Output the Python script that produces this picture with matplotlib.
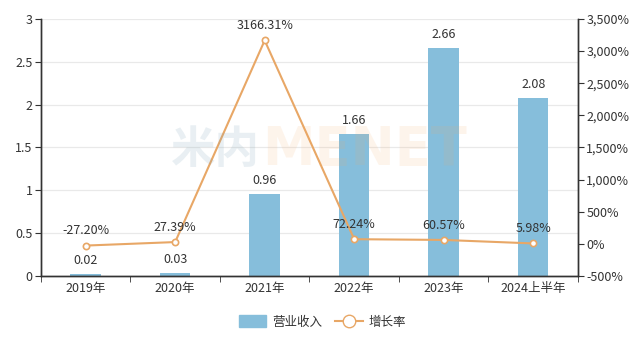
import matplotlib
matplotlib.use("Agg")
from matplotlib import pyplot as plt
from matplotlib.lines import Line2D
from matplotlib.patches import FancyBboxPatch
from matplotlib.ticker import FuncFormatter, MultipleLocator

plt.rcParams["font.family"] = ["Noto Sans CJK SC", "DejaVu Sans"]

categories = ["2019年", "2020年", "2021年", "2022年", "2023年", "2024上半年"]
revenue = [0.02, 0.03, 0.96, 1.66, 2.66, 2.08]
growth = [-27.20, 27.39, 3166.31, 72.24, 60.57, 5.98]

BAR_C = "#86bedb"
LINE_C = "#e8a766"
TXT = "#333333"
AX_C = "#333333"

fig = plt.figure(figsize=(6.39, 3.39), dpi=100, facecolor="white")
ax = fig.add_axes([0.064, 0.186, 0.8405, 0.758])
ax2 = ax.twinx()

x = list(range(len(categories)))
ax.bar(x, revenue, width=0.34, color=BAR_C, zorder=2)
for xi, v in zip(x, revenue):
    ax.annotate(f"{v:.2f}", (xi, v), xytext=(0, 5), textcoords="offset points",
                ha="center", va="bottom", fontsize=9, color=TXT)

ax2.plot(x, growth, color=LINE_C, lw=1.5, marker="o", ms=4.5,
         mfc="white", mec=LINE_C, mew=1.2, zorder=3)
for xi, v in zip(x, growth):
    ax2.annotate(f"{v:.2f}%", (xi, v), xytext=(0, 6), textcoords="offset points",
                 ha="center", va="bottom", fontsize=9, color=TXT)

ax.set_xlim(-0.5, len(categories) - 0.5)
ax.set_ylim(0, 3)
ax.yaxis.set_major_locator(MultipleLocator(0.5))
ax.yaxis.set_major_formatter(FuncFormatter(lambda v, p: f"{v:g}"))
ax2.set_ylim(-500, 3500)
ax2.yaxis.set_major_locator(MultipleLocator(500))
ax2.yaxis.set_major_formatter(FuncFormatter(lambda v, p: f"{int(v):,}%"))

ax.set_xticks(x)
ax.set_xticklabels(categories)
ax.set_xticks([i + 0.5 for i in x[:-1]] + [-0.5, len(categories) - 0.5], minor=True)
ax.tick_params(axis="x", which="major", length=0, labelsize=9, colors=TXT, pad=4)
ax.tick_params(axis="x", which="minor", length=4, color=AX_C)
ax.tick_params(axis="y", length=4, labelsize=9, colors=TXT, color=AX_C, pad=2)
ax2.tick_params(axis="y", length=4, labelsize=9, colors=TXT, color=AX_C, pad=2)

ax.grid(axis="y", color="#e9e9e9", lw=0.9, zorder=0)
ax.set_axisbelow(True)
for a in (ax, ax2):
    a.spines["top"].set_visible(False)
    for s in ("left", "right", "bottom"):
        a.spines[s].set_color(AX_C)
        a.spines[s].set_linewidth(1)

# watermark
fig.text(0.268, 0.557, "米内", fontsize=32, fontweight="bold", color="#7fa3b8",
         alpha=0.17, ha="left", va="center", zorder=10)
fig.text(0.41, 0.557, "MENET", fontsize=38, fontweight="bold", color="#f5a860",
         alpha=0.12, ha="left", va="center", zorder=10,
         family=["DejaVu Sans"])

handles = [
    FancyBboxPatch((0, 0), 1, 1, boxstyle="round,pad=0.1", color=BAR_C),
    Line2D([], [], color=LINE_C, lw=1.5, marker="o", ms=9, mfc="white", mec=LINE_C),
]
fig.legend(handles, ["营业收入", "增长率"], loc="center", bbox_to_anchor=(0.505, 0.05),
           ncol=2, frameon=False, fontsize=9, handlelength=2.2, handleheight=1.1,
           columnspacing=1.0, handletextpad=0.5, labelcolor=TXT)

fig.savefig("out.png", dpi=100, facecolor="white")
